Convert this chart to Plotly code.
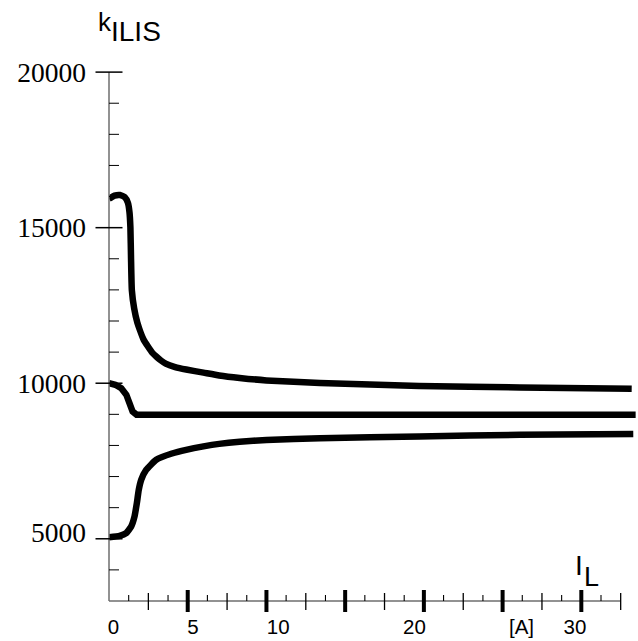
import plotly.graph_objects as go

# ---- data ----
x_top = [0, 0.35, 0.7, 1.0, 1.2, 1.3, 1.36, 1.4, 1.45, 1.6, 1.8, 2.2, 2.75, 3.0, 3.3, 3.6, 4.2, 4.9, 6.0, 7.0, 8.3, 10, 13.4, 19.7, 26.1, 33.2]
y_top = [15930, 16030, 16050, 15980, 15800, 15500, 15000, 14000, 13000, 12400, 11950, 11400, 10980, 10860, 10730, 10630, 10520, 10440, 10340, 10250, 10170, 10090, 10010, 9910, 9865, 9820]

x_mid = [0, 0.4, 0.78, 0.95, 1.1, 1.3, 1.5, 1.75, 33.45]
y_mid = [10000, 9950, 9840, 9760, 9630, 9360, 9090, 8990, 8990]

x_bot = [0, 0.67, 1.09, 1.41, 1.62, 1.77, 1.89, 2.05, 2.36, 3.0, 4.0, 4.9, 6.0, 7.0, 8.3, 10, 13.4, 19.7, 26.1, 33.3]
y_bot = [5050, 5095, 5180, 5395, 5715, 6150, 6570, 6900, 7215, 7540, 7740, 7860, 7970, 8050, 8120, 8175, 8235, 8290, 8340, 8365]

x_major_ticks = [5, 10, 15, 20, 25, 30]
x_medium_ticks = [2.5, 7.5, 12.5, 17.5, 22.5, 27.5, 32.5]
x_small_ticks = [1.25, 3.75, 6.25, 8.75, 11.25, 13.75, 16.25, 18.75, 21.25, 23.75, 26.25, 28.75, 31.25]
x_label_pos = [0.29, 5.34, 10.75, 19.4, 26.2, 29.6]
x_label_text = ["0", "5", "10", "20", "[A]", "30"]

y_major_ticks = [5000, 10000, 15000, 20000]
y_minor_ticks = [4000, 6000, 7000, 8000, 9000, 11000, 12000, 13000, 14000,
                 16000, 17000, 18000, 19000]
y_label_pos = [5190, 10000, 15000, 20000]
y_label_text = ["5000", "10000", "15000", "20000"]

X_AXIS_END = 32.5
Y_AXIS_END = 20000
X_RANGE = [0, 33.6]
Y_RANGE = [3000, 20100]

fig = go.Figure()
for xs, ys, shp in [(x_top, y_top, "spline"), (x_mid, y_mid, "linear"), (x_bot, y_bot, "spline")]:
    line = dict(color="black", width=6.5, shape=shp)
    if shp == "spline":
        line["smoothing"] = 0.4
    fig.add_trace(go.Scatter(x=xs, y=ys, mode="lines", line=line,
                             hoverinfo="skip", showlegend=False))

AX_COL = "#6e6e6e"
shapes = []
# axis lines
shapes.append(dict(type="line", xref="x", yref="paper", x0=0, x1=X_AXIS_END, y0=0, y1=0,
                   line=dict(color=AX_COL, width=1.5)))
shapes.append(dict(type="line", xref="paper", yref="y", x0=0, x1=0, y0=Y_RANGE[0], y1=Y_AXIS_END,
                   line=dict(color=AX_COL, width=1.5)))
# x ticks
for v in x_major_ticks:
    shapes.append(dict(type="line", xref="x", yref="paper", ysizemode="pixel", yanchor=0,
                       x0=v, x1=v, y0=-11, y1=11, line=dict(color="black", width=4)))
for v in x_medium_ticks:
    shapes.append(dict(type="line", xref="x", yref="paper", ysizemode="pixel", yanchor=0,
                       x0=v, x1=v, y0=-9, y1=8, line=dict(color="black", width=1.3)))
for v in x_small_ticks:
    shapes.append(dict(type="line", xref="x", yref="paper", ysizemode="pixel", yanchor=0,
                       x0=v, x1=v, y0=0, y1=6, line=dict(color="black", width=1.1)))
# y ticks
for v in y_major_ticks:
    shapes.append(dict(type="line", xref="paper", yref="y", xsizemode="pixel", xanchor=0,
                       x0=-13.5, x1=13.5, y0=v, y1=v, line=dict(color="black", width=1.5)))
for v in y_minor_ticks:
    shapes.append(dict(type="line", xref="paper", yref="y", xsizemode="pixel", xanchor=0,
                       x0=0, x1=10, y0=v, y1=v, line=dict(color="black", width=1)))

annotations = [
    dict(text="k", xref="x", yref="paper", x=0, y=1, xshift=-4.5, yshift=47,
         xanchor="center", yanchor="middle", showarrow=False,
         font=dict(family="Liberation Sans", size=26, color="black")),
    dict(text="ILIS", xref="x", yref="paper", x=0, y=1, xshift=27, yshift=38,
         xanchor="center", yanchor="middle", showarrow=False,
         font=dict(family="Liberation Sans", size=28, color="black")),
    dict(text="I", xref="x", yref="paper", x=29.86, y=0, yshift=36,
         xanchor="center", yanchor="middle", showarrow=False,
         font=dict(family="Liberation Sans", size=28, color="black")),
    dict(text="L", xref="x", yref="paper", x=30.65, y=0, yshift=24,
         xanchor="center", yanchor="middle", showarrow=False,
         font=dict(family="Liberation Sans", size=27, color="black")),
]

fig.update_layout(
    width=638, height=641,
    margin=dict(l=109, r=0, t=69, b=40, pad=0),
    paper_bgcolor="white", plot_bgcolor="white",
    shapes=shapes, annotations=annotations,
    xaxis=dict(range=X_RANGE, showgrid=False, zeroline=False, showline=False,
               tickmode="array", tickvals=x_label_pos, ticktext=x_label_text,
               ticks="", ticklabelstandoff=11,
               tickfont=dict(family="Liberation Sans", size=20.5, color="black")),
    yaxis=dict(range=Y_RANGE, showgrid=False, zeroline=False, showline=False,
               tickmode="array", tickvals=y_label_pos, ticktext=y_label_text,
               ticks="", ticklabelstandoff=22,
               tickfont=dict(family="Liberation Serif", size=27.5, color="black")),
)

fig.write_html("out.html", config={"displayModeBar": False},
               post_script="document.body.style.margin='0';")
